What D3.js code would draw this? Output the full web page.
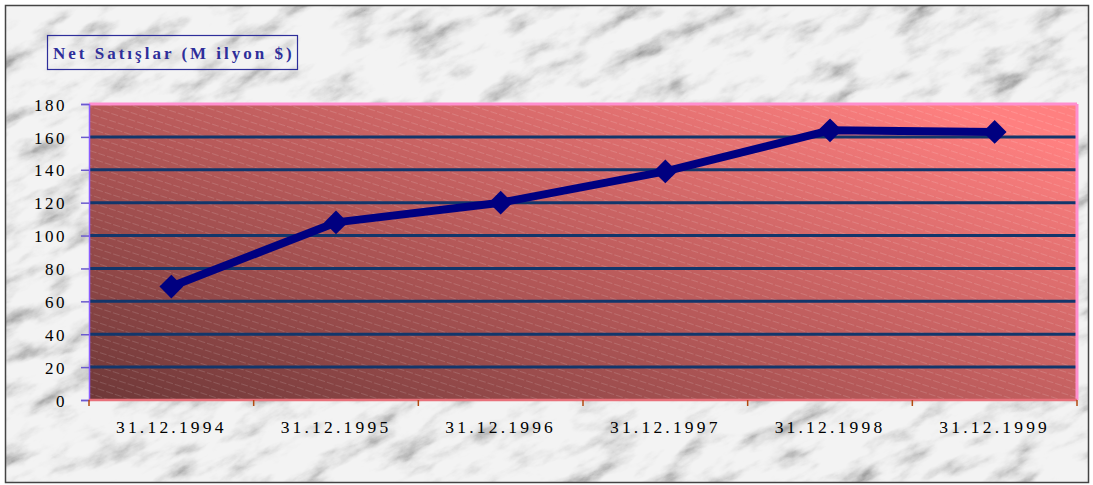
<!DOCTYPE html>
<html>
<head>
<meta charset="utf-8">
<script src="https://cdn.jsdelivr.net/npm/d3@7"></script>
<style>
html,body{margin:0;padding:0;background:#fff;}
svg{display:block;}
</style>
</head>
<body>
<svg id="chart" width="1093" height="485"></svg>
<script>
const categories = ["31.12.1994","31.12.1995","31.12.1996","31.12.1997","31.12.1998","31.12.1999"];
const netSales = [69, 108, 120, 139, 164, 163];
const yTicks = [0,20,40,60,80,100,120,140,160,180];
const titleText = "Net Satışlar (M ilyon $)";

const svg = d3.select("#chart");
const W = 1093, H = 485;
const m = {left: 89, right: 1077, top: 104, bottom: 400};
const serif = "'Liberation Serif','DejaVu Serif',serif";

const defs = svg.append("defs");
// marble texture
const f = defs.append("filter").attr("id","marble").attr("x",0).attr("y",0).attr("width","100%").attr("height","100%");
f.append("feTurbulence").attr("type","fractalNoise").attr("baseFrequency","0.02 0.05").attr("numOctaves",6).attr("seed",4).attr("result","t");
f.append("feColorMatrix").attr("in","t").attr("type","matrix")
 .attr("values","0 0 0 0 0  0 0 0 0 0  0 0 0 0 0  -1.9 0 0 0 1.15")
 .attr("result","a");
f.append("feComponentTransfer").attr("in","a").append("feFuncA").attr("type","gamma").attr("amplitude",0.8).attr("exponent",2.0).attr("offset",0);

const grad = defs.append("linearGradient").attr("id","pg").attr("x1","0").attr("y1","1").attr("x2","1").attr("y2","0.15");
grad.append("stop").attr("offset","0").attr("stop-color","#6e3838");
grad.append("stop").attr("offset","0.5").attr("stop-color","#b85a5a");
grad.append("stop").attr("offset","1").attr("stop-color","#ff8080");

const pat = defs.append("pattern").attr("id","hatch").attr("patternUnits","userSpaceOnUse")
  .attr("width",9).attr("height",7).attr("patternTransform","rotate(18)");
pat.append("line").attr("x1",0).attr("y1",3.5).attr("x2",9).attr("y2",3.5)
  .attr("stroke","#ffffff").attr("stroke-opacity",0.2).attr("stroke-width",0.7).attr("stroke-dasharray","4,2");

// background
svg.append("rect").attr("x",0).attr("y",0).attr("width",W).attr("height",H).attr("fill","#f3f3f3");
svg.append("g").attr("transform","rotate(-25 546 242)")
  .append("rect").attr("x",-300).attr("y",-300).attr("width",1700).attr("height",1100)
  .attr("fill","#666").attr("filter","url(#marble)").attr("opacity",0.5);
// mask out outside frame
svg.append("path").attr("fill","#fff").attr("fill-rule","evenodd")
  .attr("d",`M0,0H${W}V${H}H0Z M5,5H1089V483H5Z`);
svg.append("rect").attr("x",5.5).attr("y",5.5).attr("width",1083).attr("height",477).attr("fill","none").attr("stroke","#444").attr("stroke-width",1.5);

const x = d3.scaleBand().domain(categories).range([m.left, m.right]).padding(0);
const y = d3.scaleLinear().domain([0,180]).range([m.bottom, m.top]);

// plot area
svg.append("rect").attr("x",m.left).attr("y",m.top).attr("width",m.right-m.left).attr("height",m.bottom-m.top).attr("fill","url(#pg)");
svg.append("rect").attr("x",m.left).attr("y",m.top).attr("width",m.right-m.left).attr("height",m.bottom-m.top).attr("fill","url(#hatch)");

// gridlines
svg.append("g").selectAll("line").data(yTicks.filter(d => d>0 && d<180)).join("line")
  .attr("x1",m.left).attr("x2",m.right).attr("y1",d=>y(d)).attr("y2",d=>y(d))
  .attr("stroke","#12366b").attr("stroke-width",3);

// plot border top/right pink
svg.append("line").attr("x1",m.left).attr("x2",m.right).attr("y1",m.top).attr("y2",m.top).attr("stroke","#ff8fcf").attr("stroke-width",3);
svg.append("line").attr("x1",m.right).attr("x2",m.right).attr("y1",m.top).attr("y2",m.bottom).attr("stroke","#ff8fcf").attr("stroke-width",3);

// y axis
const yAxis = svg.append("g").attr("transform",`translate(${m.left},0)`)
  .call(d3.axisLeft(y).tickValues(yTicks).tickSize(8).tickPadding(14).tickFormat(d3.format("d")));
yAxis.select(".domain").attr("stroke","#8a5cff").attr("stroke-width",1.5);
yAxis.selectAll(".tick line").attr("stroke","#6a5acd").attr("stroke-width",1.5);
yAxis.selectAll(".tick text").attr("fill","#000").attr("font-family",serif)
  .attr("font-size",17).attr("letter-spacing","2.5px").attr("dy","0.36em");

// x axis
const xAxis = svg.append("g").attr("transform",`translate(0,${m.bottom})`)
  .call(d3.axisBottom(x).tickSize(0).tickPadding(21));
xAxis.select(".domain").remove();
xAxis.selectAll(".tick text").attr("fill","#000").attr("font-family",serif)
  .attr("font-size",17.5).attr("letter-spacing","3.2px");
svg.append("line").attr("x1",m.left).attr("x2",m.right).attr("y1",m.bottom).attr("y2",m.bottom).attr("stroke","#e8707a").attr("stroke-width",2.5);
svg.append("g").selectAll("line").data(categories.map(c=>x(c)).concat([m.right])).join("line")
  .attr("x1",d=>d).attr("x2",d=>d).attr("y1",m.bottom).attr("y2",m.bottom+6)
  .attr("stroke","#b34a10").attr("stroke-width",1.5);

// line
const cx = c => x(c) + x.bandwidth()/2;
const line = d3.line().x((d,i)=>cx(categories[i])).y(d=>y(d));
svg.append("path").datum(netSales).attr("d",line).attr("fill","none")
  .attr("stroke","#000080").attr("stroke-width",8).attr("stroke-linejoin","round");
svg.append("g").selectAll("path").data(netSales).join("path")
  .attr("d", d3.symbol().type(d3.symbolDiamond2).size(360))
  .attr("transform",(d,i)=>`translate(${cx(categories[i])},${y(d)})`)
  .attr("fill","#000080");

// title
svg.append("rect").attr("x",47.5).attr("y",35.5).attr("width",250).attr("height",34)
  .attr("fill","none").attr("stroke","#2e2e9a").attr("stroke-width",1.2);
svg.append("text").attr("x",53).attr("y",59).text(titleText)
  .attr("fill","#2e2e9a").attr("font-family",serif)
  .attr("font-weight","bold").attr("font-size",17).attr("letter-spacing","3px");
</script>
</body>
</html>
